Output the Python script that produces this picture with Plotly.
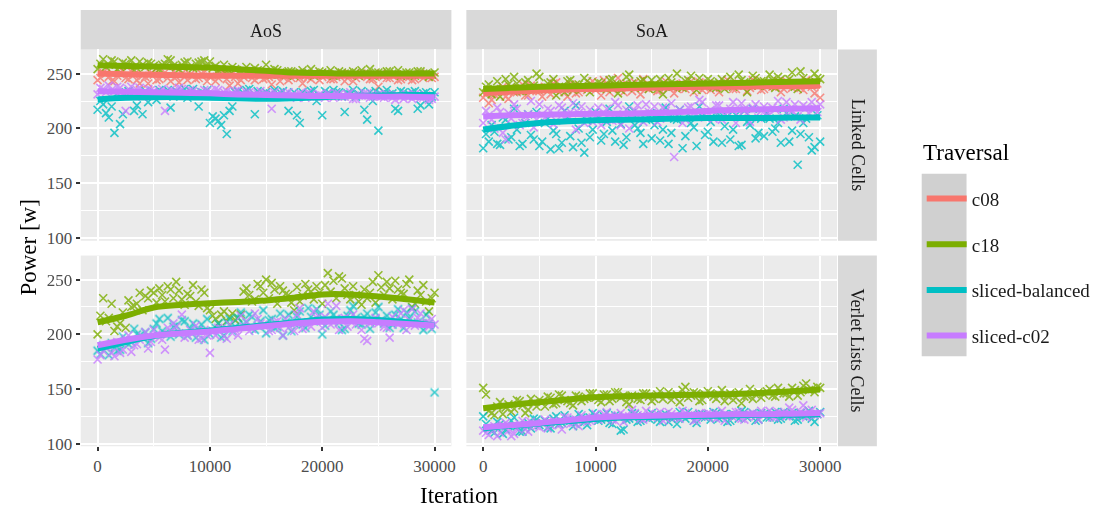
import plotly.graph_objects as go

# ---------------- data ----------------
ITER = list(range(0, 30001, 500))        # 61 sample iterations (set A)
ITER_B = list(range(250, 30000, 500))    # 60 sample iterations (set B)
SMOOTH_ITER = list(range(0, 30001, 2500))  # 13 points of the smoothed curves
TRAVERSALS = ["c08", "c18", "sliced-balanced", "sliced-c02"]
COLORS = ["#F8766D", "#7CAE00", "#00BFC4", "#C77CFF"]
LAYOUTS = ["AoS", "SoA"]
CONTAINERS = ["Linked Cells", "Verlet Lists Cells"]
Y_TICKS = [100, 150, 200, 250]
X_TICKS = [0, 10000, 20000, 30000]

# ---- Linked Cells / AoS ----
lc_aos_c08 = [244, 251, 247, 243, 250, 246, 252, 244, 248, 241,
              249, 245, 251, 243, 247, 250, 244, 248, 246, 251,
              247, 243, 249, 245, 250, 241, 247, 249, 244, 248,
              246, 240, 249, 247, 244, 250, 246, 248, 245, 249,
              247, 250, 245, 248, 243, 249, 246, 250, 247, 245,
              238, 248, 246, 249, 245, 247, 244, 249, 246, 248,
              247]
lc_aos_c08_b = [246, 250, 243, 248, 252, 245, 249, 241, 247, 250,
                244, 248, 246, 252, 242, 247, 249, 245, 250, 243,
                248, 246, 250, 239, 247, 244, 249, 246, 251, 245,
                247, 250, 243, 248, 246, 249, 241, 247, 250, 244,
                248, 245, 247, 250, 246, 243, 248, 249, 245, 247,
                250, 246, 248, 244, 249, 247, 245, 250, 248, 246]
lc_aos_c18 = [254, 263, 258, 261, 256, 259, 262, 255, 258, 260,
              257, 254, 259, 262, 256, 258, 261, 255, 260, 262,
              261, 257, 254, 252, 256, 251, 253, 250, 255, 251,
              258, 249, 253, 250, 252, 248, 251, 250, 254, 249,
              251, 250, 248, 252, 250, 249, 251, 253, 250, 248,
              251, 249, 252, 250, 248, 251, 249, 252, 250, 247,
              251]
lc_aos_c18_b = [259, 256, 262, 254, 260, 257, 253, 261, 256, 259,
                255, 258, 263, 257, 254, 260, 256, 259, 261, 257,
                255, 253, 258, 252, 254, 250, 256, 252, 253, 251,
                250, 254, 251, 249, 252, 250, 253, 251, 248, 252,
                250, 253, 249, 251, 250, 252, 248, 250, 254, 251,
                249, 252, 250, 253, 249, 251, 248, 252, 250, 249]
lc_aos_sb = [217, 222, 210, 196, 204, 233, 231, 221, 213, 224,
             233, 235, 230, 219, 234, 231, 228, 236, 220, 232,
             205, 209, 203, 195, 220, 234, 232, 236, 213, 230,
             233, 231, 229, 234, 216, 233, 205, 230, 234, 225,
             212, 232, 235, 233, 215, 231, 229, 234, 208, 225,
             198, 233, 231, 218, 234, 230, 233, 218, 232, 222,
             233]
lc_aos_sb_b = [225, 214, 220, 232, 213, 234, 216, 232, 234, 231,
               226, 233, 235, 229, 232, 236, 234, 231, 233, 235,
               211, 207, 212, 216, 233, 231, 235, 230, 234, 232,
               230, 235, 233, 231, 229, 212, 233, 231, 235, 230,
               234, 231, 233, 229, 232, 235, 231, 217, 233, 234,
               231, 235, 232, 216, 233, 231, 234, 221, 233, 229]
lc_aos_c02 = [231, 236, 239, 234, 237, 216, 238, 235, 229, 236,
              234, 232, 216, 235, 233, 236, 231, 234, 231, 235,
              233, 236, 231, 234, 232, 235, 230, 233, 231, 234,
              232, 218, 231, 229, 233, 230, 232, 228, 231, 229,
              230, 232, 228, 231, 229, 233, 227, 230, 232, 229,
              231, 228, 230, 226, 229, 231, 227, 230, 228, 226,
              229]
lc_aos_c02_b = [237, 233, 235, 238, 232, 236, 234, 237, 233, 235,
                231, 236, 233, 234, 237, 232, 235, 233, 230, 234,
                232, 235, 233, 230, 234, 231, 233, 229, 232, 230,
                231, 233, 229, 232, 230, 228, 231, 233, 229, 231,
                228, 230, 232, 229, 231, 227, 230, 232, 228, 230,
                229, 231, 228, 230, 227, 229, 231, 228, 230, 227]

# ---- Linked Cells / SoA ----
lc_soa_c08 = [228, 223, 231, 235, 229, 237, 233, 240, 230, 236,
              234, 238, 231, 242, 236, 229, 239, 233, 237, 241,
              235, 230, 240, 236, 246, 233, 238, 242, 231, 237,
              239, 234, 241, 237, 232, 240, 236, 243, 238, 235,
              241, 237, 233, 242, 238, 236, 240, 234, 244, 239,
              236, 241, 238, 233, 243, 237, 240, 235, 242, 232,
              228]
lc_soa_c08_b = [231, 226, 234, 238, 227, 233, 236, 230, 239, 234,
                229, 237, 241, 233, 236, 240, 232, 238, 235, 243,
                237, 244, 233, 239, 236, 241, 234, 238, 245, 236,
                240, 235, 243, 238, 236, 241, 239, 233, 242, 237,
                235, 240, 238, 244, 236, 241, 239, 237, 242, 235,
                240, 238, 243, 236, 241, 239, 237, 244, 238, 241]
lc_soa_c18 = [233, 240, 236, 229, 245, 238, 241, 234, 244, 239,
              247, 236, 242, 230, 238, 243, 235, 240, 246, 233,
              238, 241, 236, 245, 232, 240, 249, 237, 243, 239,
              244, 236, 231, 246, 240, 238, 243, 248, 235, 241,
              245, 238, 242, 236, 247, 240, 244, 233, 248, 239,
              243, 249, 237, 245, 240, 251, 236, 246, 242, 250,
              245]
lc_soa_c18_b = [238, 231, 243, 236, 240, 247, 234, 242, 237, 250,
                236, 241, 245, 238, 233, 244, 240, 236, 243, 239,
                242, 237, 244, 240, 235, 247, 241, 238, 244, 236,
                240, 245, 238, 242, 250, 237, 244, 240, 246, 239,
                243, 237, 245, 241, 238, 249, 242, 240, 246, 243,
                239, 244, 247, 241, 245, 238, 252, 243, 240, 246]
lc_soa_sb = [182, 188, 197, 185, 208, 192, 199, 186, 213, 190,
             184, 205, 181, 195, 187, 210, 183, 200, 178, 192,
             215, 189, 206, 198, 212, 185, 220, 203, 196, 208,
             191, 214, 199, 186, 209, 217, 193, 205, 184, 211,
             197, 188, 215, 202, 190, 212, 185, 206, 218, 196,
             193, 209, 200, 187, 214, 198, 167, 205, 192, 183,
             188]
lc_soa_sb_b = [195, 203, 186, 210, 190, 218, 184, 205, 194, 215,
               188, 209, 198, 182, 216, 193, 221, 187, 207, 199,
               210, 195, 218, 188, 204, 192, 214, 200, 186, 212,
               203, 189, 219, 196, 208, 182, 213, 201, 220, 194,
               206, 215, 187, 211, 199, 184, 216, 203, 191, 209,
               214, 197, 205, 218, 188, 211, 195, 209, 180, 212]
lc_soa_c02 = [205, 212, 200, 215, 190, 209, 218, 205, 213, 201,
              222, 210, 216, 207, 219, 212, 223, 214, 205, 217,
              211, 203, 218, 207, 221, 213, 200, 216, 209, 222,
              214, 206, 219, 211, 174, 217, 208, 220, 213, 224,
              215, 209, 221, 212, 218, 205, 223, 214, 219, 210,
              220, 213, 217, 208, 224, 216, 211, 221, 214, 218,
              222]
lc_soa_c02_b = [216, 208, 219, 196, 214, 222, 203, 211, 225, 208,
                213, 218, 204, 221, 209, 215, 199, 220, 212, 206,
                219, 214, 208, 224, 203, 217, 212, 221, 206, 215,
                220, 209, 216, 223, 212, 205, 219, 214, 226, 210,
                217, 221, 208, 215, 224, 211, 218, 206, 222, 216,
                213, 219, 225, 210, 217, 222, 208, 219, 224, 215]

# ---- Verlet Lists Cells / AoS ----
vl_aos_c18 = [200, 233, 215, 203, 210, 206, 225, 228, 222, 233,
              238, 242, 230, 241, 248, 232, 237, 245, 226, 238,
              222, 214, 218, 212, 219, 215, 239, 236, 232, 244,
              250, 247, 228, 240, 236, 222, 230, 246, 239, 244,
              228, 256, 249, 253, 242, 232, 236, 227, 233, 248,
              254, 236, 242, 249, 238, 246, 225, 240, 245, 221,
              238]
vl_aos_c18_b = [217, 212, 228, 207, 220, 231, 226, 238, 235, 240,
                229, 236, 244, 233, 240, 227, 235, 230, 241, 224,
                217, 210, 221, 216, 213, 218, 242, 230, 246, 238,
                233, 241, 244, 237, 229, 243, 235, 241, 232, 238,
                245, 239, 233, 251, 236, 244, 230, 241, 238, 229,
                243, 248, 232, 241, 237, 250, 228, 236, 230, 233]
vl_aos_sb = [185, 190, 181, 188, 186, 195, 193, 200, 197, 192,
             205, 214, 201, 198, 208, 213, 199, 210, 204, 195,
             200, 206, 197, 211, 203, 215, 209, 218, 204, 212,
             201, 214, 207, 199, 218, 210, 221, 206, 216, 223,
             200, 213, 218, 211, 205, 222, 215, 209, 219, 213,
             225, 210, 206, 218, 214, 220, 224, 211, 204, 210,
             147]
vl_aos_sb_b = [182, 188, 192, 185, 198, 191, 205, 199, 202, 196,
               210, 203, 215, 207, 200, 212, 205, 197, 209, 214,
               203, 210, 199, 214, 207, 220, 211, 216, 208, 222,
               213, 206, 219, 211, 203, 216, 209, 224, 212, 218,
               208, 221, 214, 204, 217, 226, 210, 216, 205, 220,
               213, 217, 209, 223, 206, 215, 221, 210, 218, 205]
vl_aos_c02 = [177, 185, 189, 180, 183, 196, 184, 191, 198, 187,
              204, 197, 186, 203, 207, 218, 199, 201, 195, 204,
              183, 199, 205, 196, 201, 199, 207, 203, 219, 210,
              208, 204, 212, 199, 206, 203, 224, 210, 207, 215,
              206, 228, 211, 204, 215, 212, 209, 204, 194, 212,
              210, 207, 197, 213, 219, 204, 223, 215, 210, 207,
              209]
vl_aos_c02_b = [181, 188, 183, 193, 186, 199, 190, 195, 202, 193,
                200, 195, 206, 210, 201, 197, 204, 208, 196, 199,
                202, 206, 198, 209, 204, 217, 212, 205, 214, 209,
                203, 211, 206, 214, 209, 218, 205, 211, 221, 213,
                216, 209, 226, 214, 207, 218, 212, 196, 210, 215,
                212, 206, 216, 209, 222, 213, 208, 219, 211, 214]

# ---- Verlet Lists Cells / SoA ----
vl_soa_c18 = [151, 130, 126, 138, 133, 129, 140, 135, 131, 137,
              140, 134, 142, 137, 144, 139, 135, 143, 141, 146,
              142, 138, 145, 141, 147, 144, 136, 143, 140, 146,
              139, 145, 141, 147, 143, 138, 152, 144, 146, 140,
              148, 143, 145, 139, 146, 142, 137, 144, 141, 147,
              145, 150, 143, 148, 146, 151, 144, 153, 149, 147,
              151]
vl_soa_c18_b = [145, 128, 134, 127, 136, 132, 139, 128, 141, 134,
                138, 143, 136, 145, 140, 137, 144, 139, 142, 146,
                140, 145, 139, 147, 142, 138, 144, 141, 146, 143,
                141, 148, 144, 140, 145, 149, 142, 147, 139, 145,
                146, 141, 149, 144, 140, 147, 143, 150, 145, 142,
                148, 144, 151, 146, 143, 149, 147, 155, 150, 152]
vl_soa_sb = [125, 114, 110, 118, 113, 121, 116, 111, 119, 123,
             117, 121, 114, 125, 119, 122, 116, 127, 120, 124,
             126, 122, 128, 118, 125, 113, 123, 127, 121, 124,
             128, 122, 126, 120, 124, 129, 123, 126, 119, 127,
             125, 129, 123, 127, 121, 126, 130, 124, 128, 122,
             127, 124, 129, 123, 126, 128, 122, 125, 130, 120,
             129]
vl_soa_sb_b = [118, 112, 120, 109, 116, 124, 111, 117, 114, 122,
               119, 115, 123, 118, 126, 121, 118, 124, 117, 128,
               121, 125, 119, 126, 112, 122, 128, 120, 125, 123,
               126, 120, 127, 123, 118, 125, 129, 121, 127, 124,
               122, 128, 125, 120, 127, 123, 129, 126, 121, 128,
               124, 127, 122, 129, 125, 121, 128, 126, 123, 127]
vl_soa_c02 = [112, 108, 116, 110, 119, 107, 114, 121, 111, 118,
              115, 122, 117, 120, 113, 124, 119, 116, 123, 121,
              127, 124, 129, 122, 126, 120, 125, 128, 123, 130,
              124, 127, 121, 129, 125, 123, 128, 126, 122, 125,
              128, 124, 127, 121, 126, 129, 123, 125, 128, 122,
              126, 130, 124, 128, 125, 131, 127, 135, 129, 126,
              128]
vl_soa_c02_b = [110, 114, 107, 117, 112, 109, 118, 113, 120, 116,
                119, 114, 121, 117, 124, 118, 122, 126, 120, 124,
                122, 127, 125, 121, 128, 124, 131, 126, 122, 127,
                125, 129, 123, 127, 124, 130, 126, 121, 128, 125,
                127, 123, 130, 126, 124, 129, 122, 127, 125, 130,
                128, 124, 129, 127, 133, 126, 129, 124, 131, 127]

# ---- smoothed (loess) curves ----
sm_lc_aos_c08 = [250, 249.5, 249, 248.5, 248, 248, 248, 248, 248, 248, 248, 248, 248]
sm_lc_aos_c18 = [257.5, 257, 256.5, 256, 255.5, 254, 252.5, 251, 250.5, 250, 250, 250, 250]
sm_lc_aos_sb = [226.5, 228, 228.5, 228.5, 228, 227.5, 227, 227.5, 228.5, 229.5, 230, 230.5, 230.5]
sm_lc_aos_c02 = [234, 233.5, 233, 232.5, 232, 231, 230.5, 230, 229.5, 229.5, 229, 229, 228.5]

sm_lc_soa_c08 = [232, 233.5, 234.5, 235.5, 236, 236.5, 237, 237.5, 238, 238, 238.5, 238.5, 239]
sm_lc_soa_c18 = [236, 237, 238, 238.5, 239, 239.5, 240, 240.5, 241, 241.5, 242, 242.5, 243]
sm_lc_soa_sb = [199, 202.5, 205, 206.5, 207.5, 208, 208.5, 209, 209.5, 209.5, 209.5, 210, 210]
sm_lc_soa_c02 = [211, 212, 212.5, 213, 213.5, 213.5, 214, 215, 216, 217, 217.5, 218, 218.5]

sm_vl_aos_c18 = [211, 217, 224.5, 227, 228.5, 229.5, 231, 233.5, 236.5, 236.5, 234.5, 232, 229]
sm_vl_aos_sb = [187, 193, 198.5, 201.5, 203.5, 206, 208.5, 211, 213.5, 214, 213, 211, 208]
sm_vl_aos_c02 = [190, 195, 199, 201, 202.5, 205, 207.5, 210, 211.5, 212, 211, 209.5, 208]

sm_vl_soa_c18 = [132.5, 135.5, 138, 140.5, 142.5, 143.5, 144, 144.5, 145, 145.5, 146.5, 148, 149.5]
sm_vl_soa_sb = [114, 116.5, 118.5, 120.5, 122.5, 124, 124.5, 125, 125.5, 126, 126.5, 126.5, 127]
sm_vl_soa_c02 = [115, 117, 119, 121.5, 124, 125, 125.5, 126, 126.5, 127, 127, 127.5, 128]

# panel -> {traversal: (points A, points B, smooth)}
PANELS = {
    ("Linked Cells", "AoS"): {
        "c08": (lc_aos_c08, lc_aos_c08_b, sm_lc_aos_c08),
        "c18": (lc_aos_c18, lc_aos_c18_b, sm_lc_aos_c18),
        "sliced-balanced": (lc_aos_sb, lc_aos_sb_b, sm_lc_aos_sb),
        "sliced-c02": (lc_aos_c02, lc_aos_c02_b, sm_lc_aos_c02)},
    ("Linked Cells", "SoA"): {
        "c08": (lc_soa_c08, lc_soa_c08_b, sm_lc_soa_c08),
        "c18": (lc_soa_c18, lc_soa_c18_b, sm_lc_soa_c18),
        "sliced-balanced": (lc_soa_sb, lc_soa_sb_b, sm_lc_soa_sb),
        "sliced-c02": (lc_soa_c02, lc_soa_c02_b, sm_lc_soa_c02)},
    ("Verlet Lists Cells", "AoS"): {
        "c18": (vl_aos_c18, vl_aos_c18_b, sm_vl_aos_c18),
        "sliced-balanced": (vl_aos_sb, vl_aos_sb_b, sm_vl_aos_sb),
        "sliced-c02": (vl_aos_c02, vl_aos_c02_b, sm_vl_aos_c02)},
    ("Verlet Lists Cells", "SoA"): {
        "c18": (vl_soa_c18, vl_soa_c18_b, sm_vl_soa_c18),
        "sliced-balanced": (vl_soa_sb, vl_soa_sb_b, sm_vl_soa_sb),
        "sliced-c02": (vl_soa_c02, vl_soa_c02_b, sm_vl_soa_c02)},
}

# ---------------- layout geometry (screen pixels) ----------------
W, H = 1111, 513
OFF = 8  # the page body margin shifts the figure by 8px right / down
FONT = "Liberation Serif"
COL_PX = [(81, 453), (468, 840)]
ROW_PX = [(50, 244), (259, 452.3)]
STRIP_TOP = 10
STRIP_RIGHT = (841, 880)


def px_x(p):
    return (p - OFF) / W


def px_y(p):
    return (H - (p - OFF)) / H


fig = go.Figure()

axis_ids = {}
k = 1
for cont in CONTAINERS:
    for lay in LAYOUTS:
        axis_ids[(cont, lay)] = k
        k += 1


def ax_names(i):
    return ("x" if i == 1 else f"x{i}"), ("y" if i == 1 else f"y{i}")


# points first, then smooth lines (ggplot layer order)
for (cont, lay), series in PANELS.items():
    xa, ya = ax_names(axis_ids[(cont, lay)])
    for trav, col in zip(TRAVERSALS, COLORS):
        if trav not in series:
            continue
        pa, pb, _ = series[trav]
        fig.add_trace(go.Scatter(
            x=ITER[:len(pa)] + ITER_B[:len(pb)], y=pa + pb, mode="markers", xaxis=xa, yaxis=ya,
            marker=dict(symbol="x-thin", size=8, color=col, line=dict(color=col, width=1.6)),
            opacity=0.8, showlegend=False, legendgroup=trav, name=trav))
for (cont, lay), series in PANELS.items():
    i = axis_ids[(cont, lay)]
    xa, ya = ax_names(i)
    for trav, col in zip(TRAVERSALS, COLORS):
        if trav not in series:
            continue
        _, _, sm = series[trav]
        fig.add_trace(go.Scatter(
            x=SMOOTH_ITER, y=sm, mode="lines", xaxis=xa, yaxis=ya,
            line=dict(color=col, width=6, shape="spline"),
            showlegend=(i == 1), legendgroup=trav, name=trav))

axis_common = dict(
    showgrid=True, gridcolor="white", gridwidth=1.8, zeroline=False, showline=False,
    ticklen=4, tickwidth=1.6, tickcolor="#333333",
    tickfont=dict(family=FONT, size=17, color="#4D4D4D"),
)
layout_axes = {}
for (cont, lay), i in axis_ids.items():
    r = CONTAINERS.index(cont)
    c = LAYOUTS.index(lay)
    xa, ya = ax_names(i)
    xname = "xaxis" if i == 1 else f"xaxis{i}"
    yname = "yaxis" if i == 1 else f"yaxis{i}"
    x0, x1 = COL_PX[c]
    y0, y1 = ROW_PX[r]
    layout_axes[xname] = dict(
        axis_common, domain=[px_x(x0), px_x(x1)], anchor=ya, range=[-1500, 31500],
        tickmode="array", tickvals=X_TICKS, ticktext=[str(v) for v in X_TICKS],
        showticklabels=(r == 1), ticks="outside" if r == 1 else "",
        minor=dict(tickmode="array", tickvals=[5000, 15000, 25000], showgrid=True,
                   gridcolor="white", gridwidth=0.9, ticks=""),
    )
    layout_axes[yname] = dict(
        axis_common, domain=[px_y(y1), px_y(y0)], anchor=xa, range=[97.7, 272],
        tickmode="array", tickvals=Y_TICKS, ticktext=[str(v) for v in Y_TICKS],
        showticklabels=(c == 0), ticks="outside" if c == 0 else "",
        minor=dict(tickmode="array", tickvals=[125, 175, 225], showgrid=True,
                   gridcolor="white", gridwidth=0.9, ticks=""),
    )

shapes = []
annotations = []
# top strips
for c, lay in enumerate(LAYOUTS):
    x0, x1 = COL_PX[c]
    shapes.append(dict(type="rect", xref="paper", yref="paper", x0=px_x(x0), x1=px_x(x1),
                       y0=px_y(ROW_PX[0][0]), y1=px_y(STRIP_TOP), fillcolor="#D9D9D9",
                       line=dict(width=0), layer="below"))
    annotations.append(dict(text=lay, xref="paper", yref="paper", x=px_x((x0 + x1) / 2),
                            y=px_y((STRIP_TOP + ROW_PX[0][0]) / 2 + 1), showarrow=False,
                            font=dict(family=FONT, size=18, color="#1A1A1A"),
                            xanchor="center", yanchor="middle"))
# right strips
for r, cont in enumerate(CONTAINERS):
    y0, y1 = ROW_PX[r]
    shapes.append(dict(type="rect", xref="paper", yref="paper", x0=px_x(STRIP_RIGHT[0]),
                       x1=px_x(STRIP_RIGHT[1]), y0=px_y(y1), y1=px_y(y0), fillcolor="#D9D9D9",
                       line=dict(width=0), layer="below"))
    annotations.append(dict(text=cont, xref="paper", yref="paper", x=px_x(sum(STRIP_RIGHT) / 2),
                            y=px_y((y0 + y1) / 2), showarrow=False, textangle=90,
                            font=dict(family=FONT, size=18, color="#1A1A1A"),
                            xanchor="center", yanchor="middle"))
# legend key background and legend title
shapes.append(dict(type="rect", xref="paper", yref="paper", x0=px_x(925), x1=px_x(970),
                   y0=px_y(361), y1=px_y(176), fillcolor="#D0D0D0", line=dict(width=0),
                   layer="below"))
annotations.append(dict(text="Traversal", xref="paper", yref="paper", x=px_x(924), y=px_y(155),
                        showarrow=False, font=dict(family=FONT, size=23, color="black"),
                        xanchor="left", yanchor="middle"))
# axis titles
annotations.append(dict(text="Power [w]", xref="paper", yref="paper", x=px_x(29), y=px_y(251),
                        textangle=-90, showarrow=False, font=dict(family=FONT, size=23, color="black"),
                        xanchor="center", yanchor="middle"))
annotations.append(dict(text="Iteration", xref="paper", yref="paper", x=px_x(460.5), y=px_y(502),
                        showarrow=False, font=dict(family=FONT, size=23, color="black"),
                        xanchor="center", yanchor="middle"))

fig.update_layout(
    width=W, height=H, margin=dict(l=0, r=0, t=0, b=0),
    paper_bgcolor="white", plot_bgcolor="#EBEBEB",
    font=dict(family=FONT, color="#1A1A1A"),
    shapes=shapes, annotations=annotations,
    showlegend=True,
    legend=dict(
        x=px_x(925), y=px_y(182), xanchor="left", yanchor="top",
        bgcolor="rgba(0,0,0,0)", font=dict(family=FONT, size=19, color="#1A1A1A"),
        traceorder="grouped", tracegroupgap=18, itemwidth=40,
    ),
    **layout_axes,
)

fig.write_html("out.html")
